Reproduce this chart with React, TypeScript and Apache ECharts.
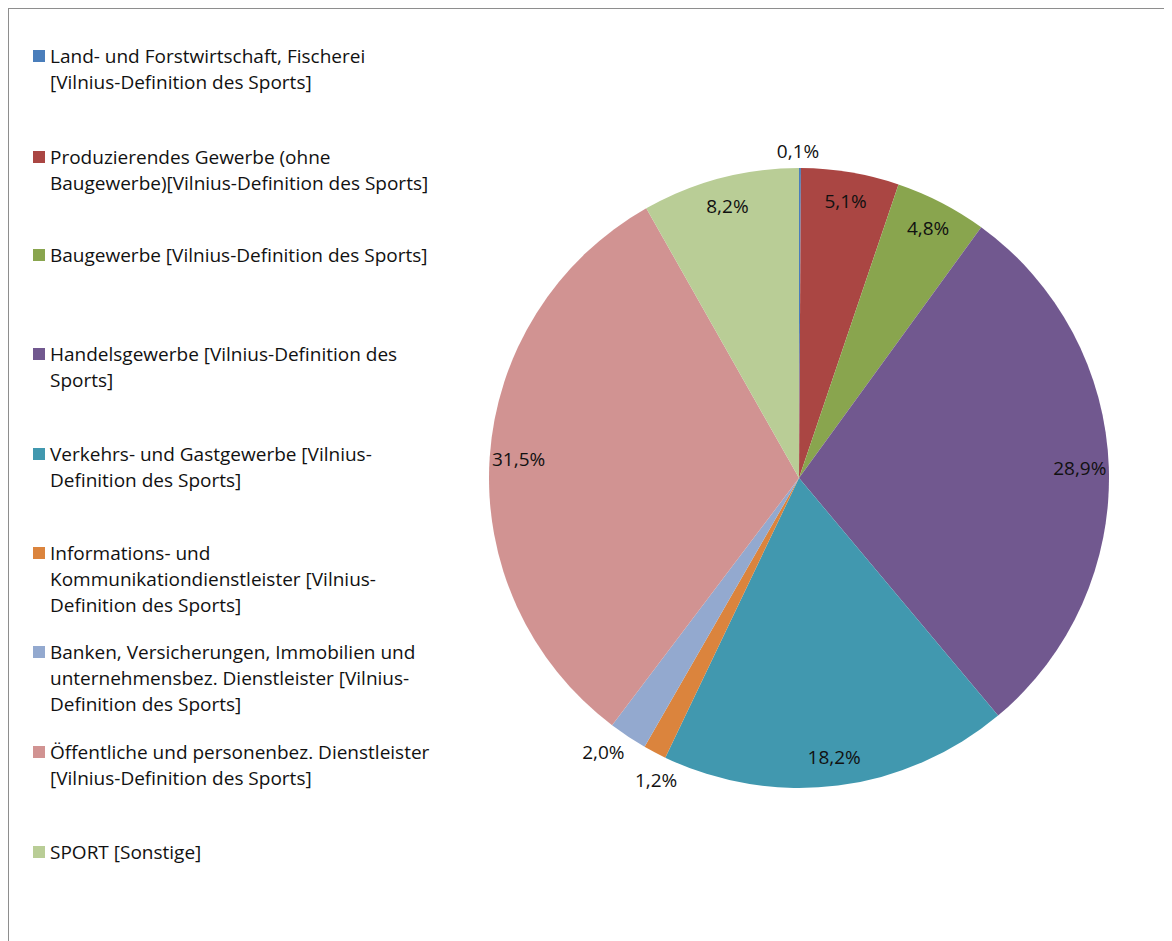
import React, { useEffect, useRef } from "react";
import * as echarts from "echarts";

const categories = [
  "Land- und Forstwirtschaft, Fischerei [Vilnius-Definition des Sports]",
  "Produzierendes Gewerbe (ohne Baugewerbe)[Vilnius-Definition des Sports]",
  "Baugewerbe [Vilnius-Definition des Sports]",
  "Handelsgewerbe [Vilnius-Definition des Sports]",
  "Verkehrs- und Gastgewerbe [Vilnius-Definition des Sports]",
  "Informations- und Kommunikationdienstleister [Vilnius-Definition des Sports]",
  "Banken, Versicherungen, Immobilien und unternehmensbez. Dienstleister [Vilnius-Definition des Sports]",
  "Öffentliche und personenbez. Dienstleister [Vilnius-Definition des Sports]",
  "SPORT [Sonstige]",
];

const legendLines = [
  ["Land- und Forstwirtschaft, Fischerei", "[Vilnius-Definition des Sports]"],
  ["Produzierendes Gewerbe (ohne", "Baugewerbe)[Vilnius-Definition des Sports]"],
  ["Baugewerbe [Vilnius-Definition des Sports]"],
  ["Handelsgewerbe [Vilnius-Definition des", "Sports]"],
  ["Verkehrs- und Gastgewerbe [Vilnius-", "Definition des Sports]"],
  ["Informations- und", "Kommunikationdienstleister [Vilnius-", "Definition des Sports]"],
  ["Banken, Versicherungen, Immobilien und", "unternehmensbez. Dienstleister [Vilnius-", "Definition des Sports]"],
  ["Öffentliche und personenbez. Dienstleister", "[Vilnius-Definition des Sports]"],
  ["SPORT [Sonstige]"],
];

const shares = [0.1, 5.1, 4.8, 28.9, 18.2, 1.2, 2.0, 31.5, 8.2];

const colors = [
  "#4A7EBB",
  "#AA4643",
  "#89A54E",
  "#71588F",
  "#4198AF",
  "#DB843D",
  "#93A9CF",
  "#D19392",
  "#B9CD96",
];

// slices smaller than this get their label outside the pie
const insideThreshold = 3;

const FONT = "'Open Sans', sans-serif";
const FONT_SIZE = 19;
const LINE_H = 26;
const CX = 790;
const CY = 469;
const R = 310;
// first-line centre of each legend entry (chart coordinates)
const legendFirstLineY = [47, 148, 246, 345, 445, 544, 643, 743, 843];
// small nudges of the outside labels (by data index), like Excel's best-fit placement
const outsideNudge: Record<number, [number, number]> = {
  0: [-2, 6],
  5: [12, 7],
  6: [-12, -4],
};

const fmt = (v: number) => v.toFixed(1).replace(".", ",") + "%";

export default function App() {
  const ref = useRef<HTMLDivElement>(null);

  useEffect(() => {
    if (!ref.current) return;
    const chart = echarts.init(ref.current, undefined, { renderer: "svg" });

    const legends = categories.map((name, i) => {
      const lines = legendLines[i];
      const h = lines.length * LINE_H;
      const sqTop = LINE_H / 2 - 6;
      const icon = `path://M0,0L0.001,0M0,${h}L0.001,${h}M0,${sqTop}L12,${sqTop}L12,${sqTop + 12}L0,${sqTop + 12}Z`;
      return {
        data: [{ name, icon, itemStyle: { color: colors[i], borderWidth: 0 } }],
        left: 24,
        top: legendFirstLineY[i] - LINE_H / 2,
        padding: 0,
        itemWidth: 12,
        itemHeight: h,
        selectedMode: false,
        itemStyle: { borderWidth: 0 },
        formatter: () => lines.join("\n"),
        textStyle: {
          fontFamily: FONT,
          fontSize: FONT_SIZE,
          lineHeight: LINE_H,
          color: "#111",
        },
      };
    });

    const pieData = categories.map((name, i) => ({
      name,
      value: shares[i],
      itemStyle: { color: colors[i] },
    }));

    const labelStyle = {
      fontFamily: FONT,
      fontSize: FONT_SIZE,
      color: "#111",
      formatter: (p: any) => fmt(p.value),
    };

    chart.setOption({
      animation: false,
      legend: legends,
      series: [
        {
          type: "pie",
          center: [CX, CY],
          radius: [0, R],
          startAngle: 90,
          clockwise: true,
          silent: true,
          itemStyle: { borderWidth: 0 },
          label: { show: false },
          labelLine: { show: false },
          emphasis: { disabled: true },
          data: pieData,
        },
        {
          type: "pie",
          center: [CX, CY],
          radius: [246, R],
          startAngle: 90,
          clockwise: true,
          silent: true,
          avoidLabelOverlap: false,
          itemStyle: { color: "rgba(0,0,0,0)", borderWidth: 0 },
          label: { ...labelStyle, position: "inside" },
          labelLine: { show: false },
          labelLayout: { hideOverlap: false },
          emphasis: { disabled: true },
          data: categories.map((name, i) => ({
            name,
            value: shares[i],
            itemStyle: { color: "rgba(0,0,0,0)" },
            label: { show: shares[i] >= insideThreshold },
          })),
        },
        {
          type: "pie",
          center: [CX, CY],
          radius: [R, 350],
          startAngle: 90,
          clockwise: true,
          silent: true,
          avoidLabelOverlap: false,
          itemStyle: { color: "rgba(0,0,0,0)", borderWidth: 0 },
          label: { ...labelStyle, position: "inside" },
          labelLine: { show: false },
          labelLayout: (p: any) => {
            const n = outsideNudge[p.dataIndex] || [0, 0];
            return { hideOverlap: false, dx: n[0], dy: n[1] };
          },
          emphasis: { disabled: true },
          data: categories.map((name, i) => ({
            name,
            value: shares[i],
            itemStyle: { color: "rgba(0,0,0,0)" },
            label: { show: shares[i] < insideThreshold },
          })),
        },
      ],
    });

    return () => chart.dispose();
  }, []);

  return (
    <div
      style={{
        width: 1164,
        height: 933,
        borderLeft: "1px solid #8e8e8e",
        borderTop: "1px solid #8e8e8e",
        boxSizing: "border-box",
        background: "#fff",
      }}
    >
      <div ref={ref} style={{ width: 1163, height: 932 }} />
    </div>
  );
}
